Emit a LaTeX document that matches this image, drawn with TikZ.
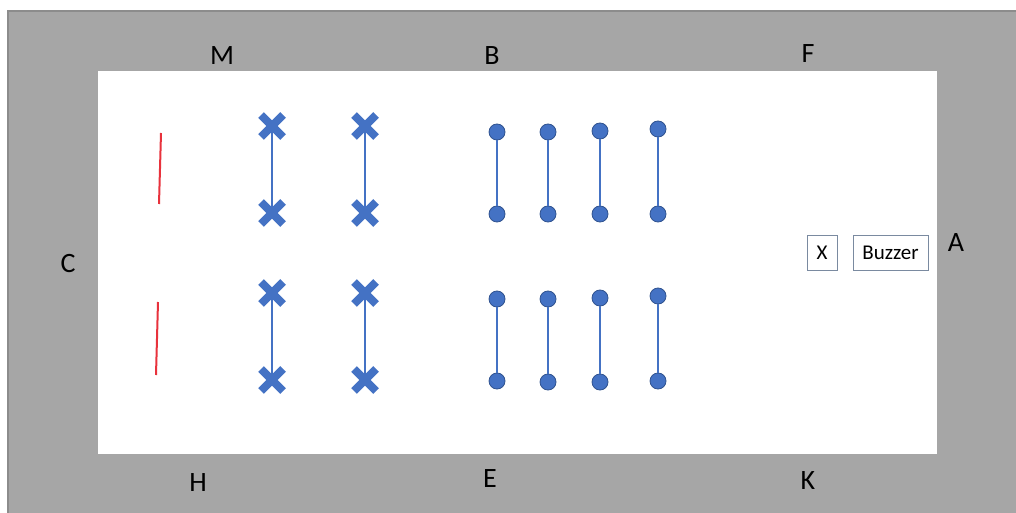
\documentclass[tikz,border=0pt]{standalone}
\usepackage{fontspec}
\setmainfont{Carlito}
\usetikzlibrary{shapes.misc, backgrounds}

\definecolor{hallgray}{HTML}{A6A6A6}
\definecolor{halledge}{HTML}{8C8C8C}
\definecolor{markblue}{HTML}{4472C4}
\definecolor{markedge}{HTML}{2F528F}
\definecolor{boxedge}{HTML}{7A8AA0}
\definecolor{gatered}{HTML}{E8323C}

\begin{document}
\begin{tikzpicture}[
    x=0.5pt, y=-0.5pt,
    side/.style={font=\fontsize{14}{16}\selectfont, inner sep=0pt},
    xmark/.style={cross out, draw=markblue, line width=4pt, minimum size=7pt, inner sep=0pt},
    dot/.style={circle, fill=markblue, draw=markedge, line width=0.4pt, minimum size=8pt, inner sep=0pt},
    link/.style={draw=markblue, line width=0.8pt},
    gate/.style={draw=gatered, line width=1pt},
    tag/.style={rectangle, draw=boxedge, line width=0.5pt, fill=white, minimum height=17.5pt, inner sep=0pt, font=\fontsize{10.5}{12}\selectfont}
]

\useasboundingbox (0,0) rectangle (1016,513);

% Side labels
\node[side] (lm) at (222,56) {M};
\node[side] (lb) at (492,56) {B};
\node[side] (lf) at (808,54) {F};
\node[side] (lc) at (68,264) {C};
\node[side] (la) at (956,243) {A};
\node[side] (lh) at (198,483) {H};
\node[side] (le) at (490,479) {E};
\node[side] (lk) at (808,481) {K};

% Red gates
\draw[gate] (161,133) -- (159,204);
\draw[gate] (158,302) -- (156,375);

% Crosses
\node[xmark] (x1t) at (272,126) {};
\node[xmark] (x1b) at (272,213) {};
\node[xmark] (x2t) at (365,126) {};
\node[xmark] (x2b) at (365,213) {};
\node[xmark] (x3t) at (272,293) {};
\node[xmark] (x3b) at (272,380) {};
\node[xmark] (x4t) at (365,293) {};
\node[xmark] (x4b) at (365,380) {};

% Dots
\node[dot] (d1t) at (497,132) {};
\node[dot] (d1b) at (497,214) {};
\node[dot] (d2t) at (548,132) {};
\node[dot] (d2b) at (548,214) {};
\node[dot] (d3t) at (600,131) {};
\node[dot] (d3b) at (600,214) {};
\node[dot] (d4t) at (658,129) {};
\node[dot] (d4b) at (658,214) {};
\node[dot] (d5t) at (497,299) {};
\node[dot] (d5b) at (497,381) {};
\node[dot] (d6t) at (548,299) {};
\node[dot] (d6b) at (548,382) {};
\node[dot] (d7t) at (600,298) {};
\node[dot] (d7b) at (600,382) {};
\node[dot] (d8t) at (658,296) {};
\node[dot] (d8b) at (658,381) {};

% Hall and cross links
\begin{scope}[on background layer]
\fill[hallgray, draw=halledge, line width=0.6pt] (8,11) rectangle (1020,517);
\fill[white] (98,71) rectangle (937,454);
\draw[link] (x1t.center) -- (x1b.center);
\draw[link] (x2t.center) -- (x2b.center);
\draw[link] (x3t.center) -- (x3b.center);
\draw[link] (x4t.center) -- (x4b.center);
\end{scope}

% Dot links
\draw[link] (d1t) -- (d1b);
\draw[link] (d2t) -- (d2b);
\draw[link] (d3t) -- (d3b);
\draw[link] (d4t) -- (d4b);
\draw[link] (d5t) -- (d5b);
\draw[link] (d6t) -- (d6b);
\draw[link] (d7t) -- (d7b);
\draw[link] (d8t) -- (d8b);

% Boxes
\node[tag, minimum width=15pt] (xbox) at (822,252.5) {X};
\node[tag, minimum width=37.5pt] (buzzer) at (890.5,252.5) {Buzzer};

\end{tikzpicture}
\end{document}
